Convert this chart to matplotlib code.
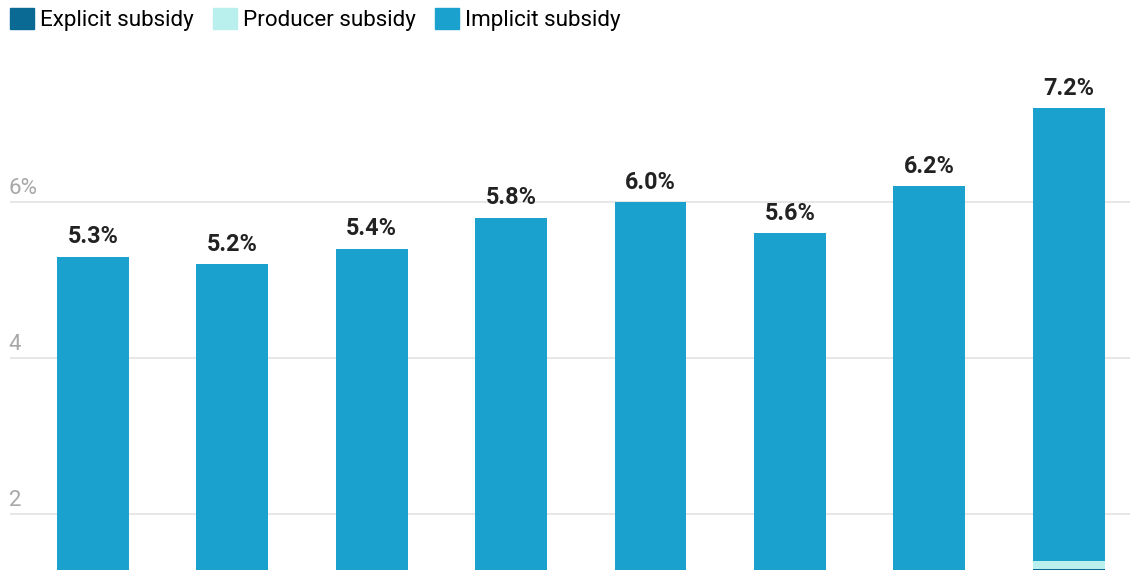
import matplotlib.pyplot as plt
from matplotlib.patches import Patch

plt.rcParams["font.family"] = ["Roboto", "DejaVu Sans"]

# fossil fuel subsidies, % of GDP
years = ["2015", "2016", "2017", "2018", "2019", "2020", "2021", "2022"]
explicit = [0.5, 0.4, 0.5, 0.6, 0.5, 0.4, 0.6, 1.29]
producer = [0.03, 0.03, 0.03, 0.03, 0.03, 0.03, 0.04, 0.11]
totals = [5.3, 5.2, 5.4, 5.8, 6.0, 5.6, 6.2, 7.2]
implicit = [t - e - p for t, e, p in zip(totals, explicit, producer)]

c_explicit = "#0a6a94"
c_producer = "#b9efec"
c_implicit = "#1aa1cd"

fig = plt.figure(figsize=(11.4, 5.7), dpi=100)
ax = fig.add_axes([10 / 1140, 0, 1120 / 1140, 524 / 570])

x = list(range(len(years)))
w = 0.516
ax.bar(x, explicit, w, color=c_explicit, zorder=2)
ax.bar(x, producer, w, bottom=explicit, color=c_producer, zorder=2)
bottoms = [e + p for e, p in zip(explicit, producer)]
ax.bar(x, implicit, w, bottom=bottoms, color=c_implicit, zorder=2)

for xi, t in zip(x, totals):
    ax.annotate(f"{t:.1f}%", (xi, t), xytext=(0, 6), textcoords="offset points",
                ha="center", va="bottom", fontsize=16.8, fontweight="bold", color="#222222")

ax.set_xlim(-0.595, 7.44)
ax.set_ylim(1.282, 8.0)
ax.set_yticks([2, 4, 6])
ax.set_yticklabels([])
ax.grid(axis="y", color="#e3e3e3", linewidth=1.2, zorder=0)
ax.tick_params(left=False, bottom=False, labelbottom=False)
for s in ax.spines.values():
    s.set_visible(False)

# labels sit just above each gridline
for v, lab in zip([2, 4, 6], ["2", "4", "6%"]):
    ax.annotate(lab, (0, v), xycoords=ax.get_yaxis_transform(), xytext=(-1, 2),
                textcoords="offset points", ha="left", va="bottom",
                fontsize=16, color="#a8a8a8")

handles = [Patch(color=c_explicit, label="Explicit subsidy"),
           Patch(color=c_producer, label="Producer subsidy"),
           Patch(color=c_implicit, label="Implicit subsidy")]
fig.legend(handles=handles, loc="upper left", bbox_to_anchor=(2 / 1140, 1.0), ncol=3,
           frameon=False, fontsize=16.1, handlelength=1.1, handleheight=1.1,
           handletextpad=0.25, columnspacing=0.85, borderaxespad=0, borderpad=0.35)

fig.savefig("out.png", dpi=100)
